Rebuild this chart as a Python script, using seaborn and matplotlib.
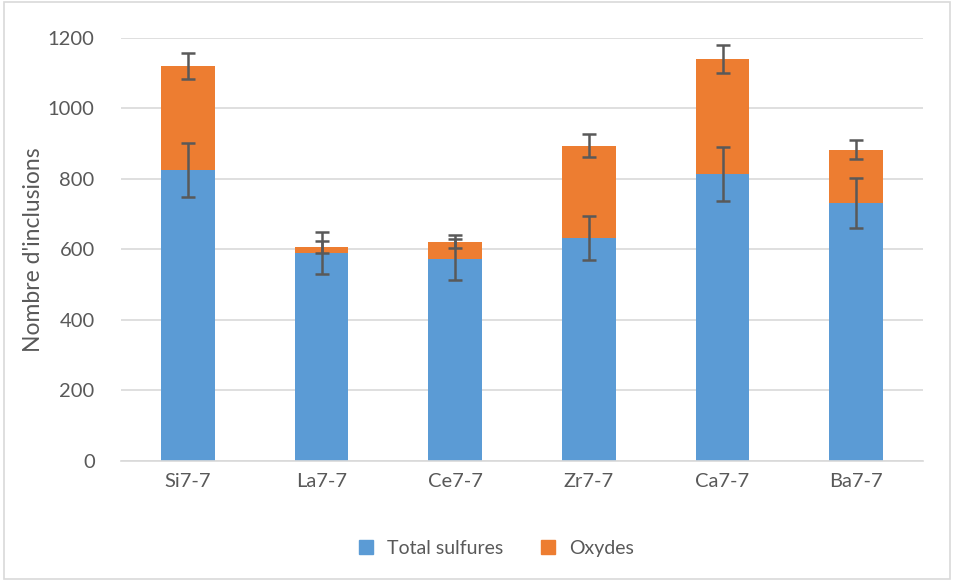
import numpy as np
import pandas as pd
import seaborn as sns
import matplotlib.pyplot as plt
from matplotlib.patches import Rectangle
from matplotlib.lines import Line2D

# values
samples = ["Si7-7", "La7-7", "Ce7-7", "Zr7-7", "Ca7-7", "Ba7-7"]
sulfures = [826, 590, 572, 633, 814, 731]
oxydes = [294, 18, 50, 262, 326, 152]
err_sulfures = [77, 60, 59, 63, 76, 71]
err_total = [37, 17, 18, 34, 40, 27]

blue = "#5B9BD5"
orange = "#ED7D31"
grey = "#595959"

df = pd.DataFrame({"echantillon": samples,
                   "sulfures": sulfures,
                   "oxydes": oxydes})
df["total"] = df["sulfures"] + df["oxydes"]

sns.set_style("white")
plt.rcParams["font.family"] = ["Lato", "DejaVu Sans"]

fig = plt.figure(figsize=(9.56, 5.8), dpi=100)
ax = fig.add_axes([0.1266, 0.2052, 0.8389, 0.7293])

# stacked bars: total (orange) underneath, sulfures (blue) drawn over it
sns.barplot(data=df, x="echantillon", y="total", color=orange,
            saturation=1, width=0.4, ax=ax, zorder=2, linewidth=0)
sns.barplot(data=df, x="echantillon", y="sulfures", color=blue,
            saturation=1, width=0.4, ax=ax, zorder=2, linewidth=0)

xpos = np.arange(len(samples))
ax.errorbar(xpos, df["total"], yerr=err_total, fmt="none", ecolor=grey,
            elinewidth=1.8, capsize=5, capthick=1.8, zorder=3)
ax.errorbar(xpos, df["sulfures"], yerr=err_sulfures, fmt="none", ecolor=grey,
            elinewidth=1.8, capsize=5, capthick=1.8, zorder=3)

ax.set_ylim(0, 1200)
ax.set_xlim(-0.5, len(samples) - 0.5)
ax.set_yticks(range(0, 1201, 200))
ax.yaxis.grid(True, color="#d9d9d9", linewidth=1.2, zorder=0)
ax.set_axisbelow(True)
for side in ["top", "right", "left"]:
    ax.spines[side].set_visible(False)
ax.spines["bottom"].set_color("#d9d9d9")
ax.spines["bottom"].set_linewidth(1.2)
ax.tick_params(length=0, labelsize=14.5, colors=grey, pad=9)
ax.tick_params(axis="y", pad=19)
ax.set_xlabel("")
ax.set_ylabel("Nombre d'inclusions", fontsize=16.5, color=grey, labelpad=3)

leg_handles = [Line2D([], [], marker="s", linestyle="none", markersize=10,
                      color=c) for c in (blue, orange)]
fig.legend(leg_handles, ["Total sulfures", "Oxydes"], loc="center",
           bbox_to_anchor=(0.513, 0.055), ncol=2, frameon=False,
           fontsize=14, labelcolor=grey, handletextpad=0.1, columnspacing=1.3)

fig.patches.append(Rectangle((0.004, 0.002), 0.99, 0.995, transform=fig.transFigure,
                             fill=False, edgecolor="#d9d9d9", linewidth=1.2))

fig.savefig("out.png", dpi=100)
